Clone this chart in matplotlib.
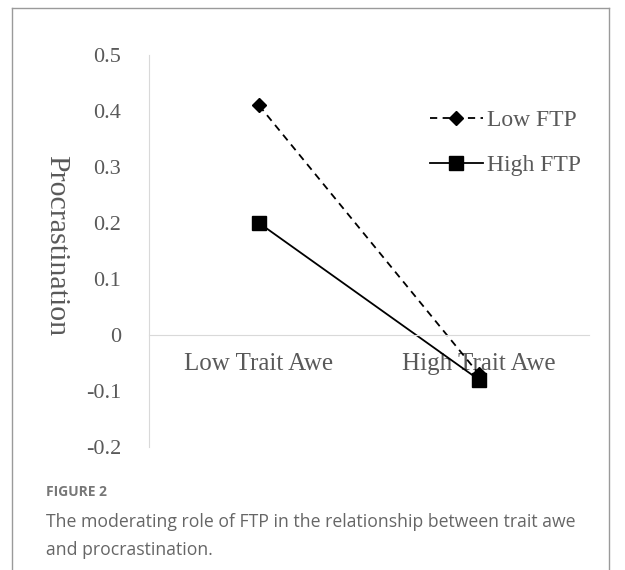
import matplotlib.pyplot as plt
from matplotlib.lines import Line2D

# values
categories = ["Low Trait Awe", "High Trait Awe"]
low_ftp = [0.41, -0.07]
high_ftp = [0.20, -0.08]
y_ticks = [0.5, 0.4, 0.3, 0.2, 0.1, 0, -0.1, -0.2]
y_tick_labels = ["0.5", "0.4", "0.3", "0.2", "0.1", "0", "-0.1", "-0.2"]

serif = "Liberation Serif"
grey_txt = "#595959"
axis_grey = "#d9d9d9"

fig = plt.figure(figsize=(6.25, 5.7), dpi=100)
ax = fig.add_axes([0.2384, 0.2158, 0.704, 0.6877])

x = [0, 1]
ax.plot(x, low_ftp, linestyle=(0, (4, 3)), color="black", linewidth=1.3,
        marker="D", markersize=7, label="Low FTP")
ax.plot(x, high_ftp, linestyle="-", color="black", linewidth=1.3,
        marker="s", markersize=10, label="High FTP")

for s in ["top", "right"]:
    ax.spines[s].set_visible(False)
ax.spines["left"].set_color(axis_grey)
ax.spines["bottom"].set_color(axis_grey)
ax.spines["bottom"].set_position(("data", 0))
ax.tick_params(axis="both", length=0)
ax.tick_params(axis="y", pad=20)
ax.tick_params(axis="x", pad=13)

ax.set_xlim(-0.5, 1.5)
ax.set_ylim(-0.2, 0.5)
ax.set_yticks(y_ticks)
ax.set_yticklabels(y_tick_labels, fontfamily=serif, fontsize=16, color=grey_txt)
ax.set_xticks(x)
ax.set_xticklabels(categories, fontfamily=serif, fontsize=18, color=grey_txt)

ax.set_ylabel("Procrastination", fontfamily=serif, fontsize=21.5, color=grey_txt,
              rotation=270, va="center")
ax.yaxis.set_label_coords(-0.212, 0.515)

leg = ax.legend(loc="upper left", bbox_to_anchor=(0.617, 0.885), frameon=False,
                prop={"family": serif, "size": 17}, labelspacing=1.0,
                handlelength=2.25, handletextpad=0.15, borderaxespad=0)
for t in leg.get_texts():
    t.set_color(grey_txt)

# outer frame of the figure panel
frame_c = "#9a9a9a"
fig.add_artist(Line2D([12 / 625, 12 / 625], [0, 1 - 8 / 570], color=frame_c, linewidth=1))
fig.add_artist(Line2D([12 / 625, 609 / 625], [1 - 8 / 570, 1 - 8 / 570], color=frame_c, linewidth=1))
fig.add_artist(Line2D([609 / 625, 609 / 625], [0, 1 - 8 / 570], color=frame_c, linewidth=1))

fig.text(46 / 625, 1 - 492 / 570, "FIGURE 2", fontfamily="Open Sans", fontsize=10,
         fontweight="bold", color="#777777", va="center")
fig.text(46 / 625, 1 - 536 / 570,
         "The moderating role of FTP in the relationship between trait awe\nand procrastination.",
         fontfamily="Open Sans", fontsize=12.7, color="#666666", va="center", linespacing=1.65)

plt.savefig("out.png", dpi=100)
